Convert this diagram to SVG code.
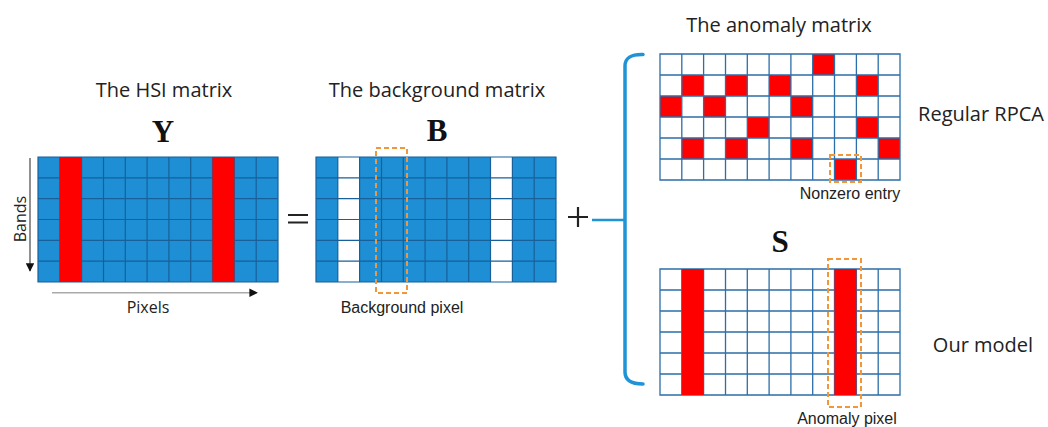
<svg xmlns="http://www.w3.org/2000/svg" xmlns:xlink="http://www.w3.org/1999/xlink" width="1048" height="427" viewBox="0 0 1048 427">
<style>
.title{font-family:"Open Sans","Liberation Sans",sans-serif;font-size:20px;fill:#222;text-anchor:middle}
.axis{font-family:"Open Sans","Liberation Sans",sans-serif;font-size:16px;fill:#222;text-anchor:middle}
.note{font-family:"Liberation Sans",Arial,sans-serif;font-size:16px;fill:#222;text-anchor:middle}
.sym{font-family:"Liberation Serif","DejaVu Serif",serif;font-weight:bold;font-size:31px;fill:#111;text-anchor:middle}
.blue{fill:#1e8fd4}
.red{fill:#fe0000}
.white{fill:#fff}
.gridB{fill:none;stroke:#17609a;stroke-width:1.2}
.gridW{fill:none;stroke:#2c6ea8;stroke-width:1.3}
.dash{fill:none;stroke:#f2963a;stroke-width:2;stroke-dasharray:5 3}
.brace{fill:none;stroke:#1f93d6;stroke-width:3.5;stroke-linecap:round}
.op{fill:none;stroke:#222;stroke-width:2.2}
</style>
<defs>
<path id="g125" d="M0,0H240V125H0Z M21.8,0V125 M43.6,0V125 M65.5,0V125 M87.3,0V125 M109.1,0V125 M130.9,0V125 M152.7,0V125 M174.5,0V125 M196.4,0V125 M218.2,0V125 M0,20.8H240 M0,41.7H240 M0,62.5H240 M0,83.3H240 M0,104.2H240"/>
<path id="g126" d="M0,0H240V126H0Z M21.8,0V126 M43.6,0V126 M65.5,0V126 M87.3,0V126 M109.1,0V126 M130.9,0V126 M152.7,0V126 M174.5,0V126 M196.4,0V126 M218.2,0V126 M0,21H240 M0,42H240 M0,63H240 M0,84H240 M0,105H240"/>
<marker id="ah" viewBox="0 0 10 10" refX="9" refY="5" markerWidth="10" markerHeight="8.5" markerUnits="userSpaceOnUse" orient="auto">
<path d="M0,0L10,5L0,10Z" fill="#111"/>
</marker>
</defs>

<g id="hsi-matrix">
<text class="title" x="164" y="97">The HSI matrix</text>
<text class="sym" x="163" y="142">Y</text>
<rect class="blue" x="38" y="157" width="240" height="125"/>
<use xlink:href="#g125" href="#g125" x="38" y="157" class="gridB"/>
<rect class="red" x="59.8" y="157" width="21.8" height="125"/>
<rect class="red" x="212.5" y="157" width="21.8" height="125"/>
<text class="axis" transform="translate(26,219) rotate(-90)">Bands</text>
<text class="axis" x="148" y="313">Pixels</text>
</g>

<g id="equals">
<path class="op" d="M288,215H308 M288,222.5H308"/>
</g>

<g id="background-matrix">
<text class="title" x="437" y="97">The background matrix</text>
<text class="sym" x="437" y="141">B</text>
<rect class="blue" x="316" y="157" width="240" height="125"/>
<rect class="white" x="337.8" y="157" width="21.8" height="125"/>
<rect class="white" x="490.5" y="157" width="21.8" height="125"/>
<use xlink:href="#g125" href="#g125" x="316" y="157" class="gridB"/>
<rect class="dash" x="376" y="148" width="31" height="145"/>
<text class="note" x="402" y="313">Background pixel</text>
</g>

<g id="plus">
<path class="op" d="M568,217H588 M578,207V227"/>
</g>

<g id="anomaly-matrix">
<text class="title" x="779" y="32">The anomaly matrix</text>
<rect class="white" x="660" y="54" width="240" height="126"/>
<g class="red">
<rect x="812.7" y="54" width="21.8" height="21"/>
<rect x="681.8" y="75" width="21.8" height="21"/>
<rect x="725.5" y="75" width="21.8" height="21"/>
<rect x="769.1" y="75" width="21.8" height="21"/>
<rect x="856.4" y="75" width="21.8" height="21"/>
<rect x="660" y="96" width="21.8" height="21"/>
<rect x="703.6" y="96" width="21.8" height="21"/>
<rect x="790.9" y="96" width="21.8" height="21"/>
<rect x="747.3" y="117" width="21.8" height="21"/>
<rect x="856.4" y="117" width="21.8" height="21"/>
<rect x="681.8" y="138" width="21.8" height="21"/>
<rect x="725.5" y="138" width="21.8" height="21"/>
<rect x="790.9" y="138" width="21.8" height="21"/>
<rect x="878.2" y="138" width="21.8" height="21"/>
<rect x="834.5" y="159" width="21.8" height="21"/>
</g>
<use xlink:href="#g126" href="#g126" x="660" y="54" class="gridW"/>
<rect class="dash" x="830" y="155" width="31" height="27"/>
<text class="note" x="850" y="199">Nonzero entry</text>
<text class="title" x="981" y="121">Regular RPCA</text>
</g>

<g id="sparse-matrix">
<text class="sym" x="780" y="252" font-size="28">S</text>
<rect class="white" x="660" y="269" width="240" height="126"/>
<use xlink:href="#g126" href="#g126" x="660" y="269" class="gridW"/>
<rect class="red" x="681.8" y="269" width="21.8" height="126"/>
<rect class="red" x="834.5" y="269" width="21.8" height="126"/>
<rect class="dash" x="828" y="259" width="33" height="148"/>
<text class="note" x="847" y="424">Anomaly pixel</text>
<text class="title" x="983" y="352">Our model</text>
</g>

<g id="connectors">
<path class="brace" d="M643,54.5 Q625,54 625,66 V372 Q625,384 643,384"/>
<path fill="none" stroke="#1f93d6" stroke-width="2.5" d="M592,220H625"/>
<line x1="30" y1="158" x2="30" y2="271" stroke="#555" stroke-width="1.3" marker-end="url(#ah)"/>
<line x1="52" y1="292.7" x2="257" y2="292.7" stroke="#aaa" stroke-width="1.5" marker-end="url(#ah)"/>
</g>
</svg>
